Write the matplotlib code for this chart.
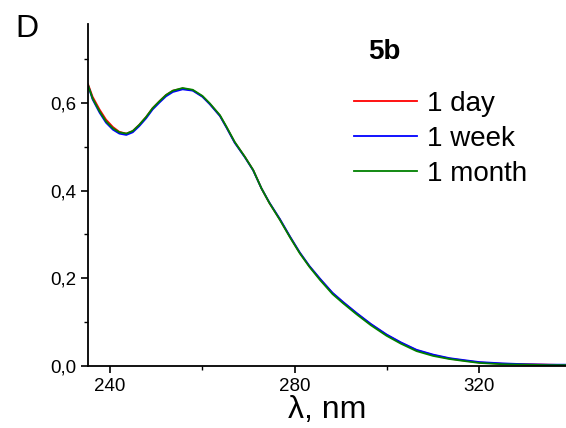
import matplotlib
matplotlib.use("Agg")
import matplotlib.pyplot as plt
from matplotlib.ticker import MultipleLocator, FuncFormatter

plt.rcParams['font.family'] = ['Liberation Sans', 'DejaVu Sans']

# Absorption spectra of 5b after storage
wavelength = [235.2, 236.2, 237.7, 239.1, 240.6, 242.0, 243.5, 244.9, 246.3, 247.8,
              249.2, 250.7, 252.1, 253.6, 255.7, 257.9, 260.0, 261.6, 263.8, 265.2,
              267.0, 269.2, 271.0, 272.8, 274.5, 276.8, 279.0, 281.1, 283.2, 285.5,
              288.2, 290.5, 293.4, 296.5, 299.9, 303.0, 306.4, 310.0, 313.5, 317.0,
              320.0, 325.0, 330.0, 335.0, 338.8]
abs_month = [0.641, 0.610, 0.581, 0.558, 0.542, 0.533, 0.530, 0.536, 0.550, 0.568,
             0.588, 0.604, 0.618, 0.628, 0.634, 0.630, 0.616, 0.599, 0.572, 0.546,
             0.511, 0.477, 0.447, 0.405, 0.372, 0.333, 0.293, 0.257, 0.226, 0.196,
             0.164, 0.143, 0.118, 0.093, 0.069, 0.051, 0.034, 0.023, 0.016, 0.011,
             0.007, 0.004, 0.003, 0.002, 0.002]
abs_day = [0.643, 0.614, 0.585, 0.562, 0.545, 0.534, 0.530, 0.536, 0.550, 0.568,
           0.588, 0.604, 0.618, 0.628, 0.633, 0.629, 0.615, 0.598, 0.571, 0.545,
           0.510, 0.477, 0.447, 0.405, 0.372, 0.334, 0.294, 0.258, 0.227, 0.198,
           0.166, 0.145, 0.120, 0.095, 0.071, 0.053, 0.036, 0.025, 0.017, 0.012,
           0.008, 0.005, 0.004, 0.003, 0.002]
abs_week = [0.640, 0.608, 0.578, 0.555, 0.539, 0.530, 0.527, 0.533, 0.547, 0.565,
            0.585, 0.601, 0.615, 0.625, 0.631, 0.628, 0.614, 0.597, 0.570, 0.544,
            0.509, 0.476, 0.446, 0.405, 0.373, 0.335, 0.295, 0.259, 0.228, 0.199,
            0.167, 0.146, 0.121, 0.096, 0.072, 0.054, 0.037, 0.026, 0.018, 0.013,
            0.009, 0.006, 0.004, 0.003, 0.003]
labels = ["1 day", "1 week", "1 month"]
colors = ["#ff0000", "#0000ff", "#008000"]

W, H = 566, 428
fig = plt.figure(figsize=(W / 100, H / 100), dpi=100)
ax = fig.add_axes([88 / W, 1 - 366 / H, 1 - 88 / W, (366 - 24) / H])

for y, lab, c in zip([abs_day, abs_week, abs_month], labels, colors):
    ax.plot(wavelength, y, color=c, lw=1.3, label=lab)

ax.set_xlim(235.2, 338.8)
ax.set_ylim(0, 0.78)

for s in ["top", "right"]:
    ax.spines[s].set_visible(False)
for s in ["left", "bottom"]:
    ax.spines[s].set_linewidth(1.3)

ax.xaxis.set_major_locator(MultipleLocator(40))
ax.xaxis.set_minor_locator(MultipleLocator(20))
ax.yaxis.set_major_locator(MultipleLocator(0.2))
ax.yaxis.set_minor_locator(MultipleLocator(0.1))
ax.yaxis.set_major_formatter(FuncFormatter(lambda v, p: f"{v:.1f}".replace(".", ",")))
ax.tick_params(which="major", direction="out", length=5, width=1.2, labelsize=13.5)
ax.tick_params(which="minor", direction="out", length=3, width=1.0)

ax.set_xlabel("λ, nm", fontsize=23, labelpad=0)

fig.text(15 / W, 1 - 14 / H, "D", fontsize=23, va="top", ha="left")
fig.text(384 / W, 1 - 52 / H, "5b", fontsize=20, fontweight="bold",
         ha="center", va="center")

ax.legend(loc="upper left", bbox_to_anchor=(354 / W, 1 - 91 / H),
          bbox_transform=fig.transFigure, frameon=False, fontsize=20,
          handlelength=2.27, handletextpad=0.36, labelspacing=0.32,
          borderpad=0, borderaxespad=0)

fig.savefig("out.png", dpi=100)
